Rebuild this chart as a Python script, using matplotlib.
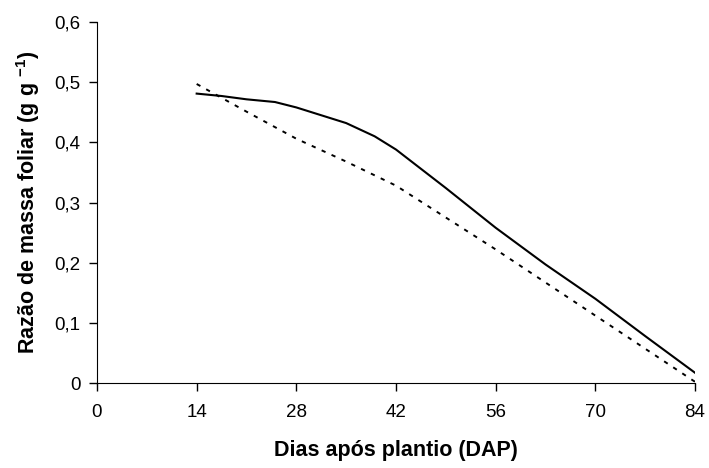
import numpy as np
import matplotlib.pyplot as plt

plt.rcParams['font.family'] = ['Liberation Sans', 'DejaVu Sans']
plt.rcParams['mathtext.fontset'] = 'custom'
plt.rcParams['mathtext.rm'] = 'Liberation Sans'
plt.rcParams['mathtext.bf'] = 'Liberation Sans:bold'

# observed curve (solid)
dias_obs = [14, 17.5, 21, 25, 28, 35, 39, 42, 49, 56, 63, 70, 77, 84]
rmf_obs = [0.481, 0.477, 0.4715, 0.467, 0.458, 0.432, 0.410, 0.388,
           0.324, 0.258, 0.197, 0.140, 0.078, 0.017]

# fitted curve (dashed)
dias_fit = [14, 21, 28, 35, 42, 49, 56, 63, 70, 77, 84]
rmf_fit = [0.497, 0.451, 0.406, 0.368, 0.328, 0.275, 0.222, 0.167,
           0.112, 0.057, 0.002]

xticks = [0, 14, 28, 42, 56, 70, 84]
yticks = [0, 0.1, 0.2, 0.3, 0.4, 0.5, 0.6]
ylabels = ['0', '0,1', '0,2', '0,3', '0,4', '0,5', '0,6']

fig = plt.figure(figsize=(7.09, 4.68), dpi=100)
ax = fig.add_axes([0.1368, 0.1816, 0.8435, 0.7714])

ax.plot(dias_obs, rmf_obs, color='black', lw=1.5)
ax.plot(dias_fit, rmf_fit, color='black', lw=1.4, dashes=(2.2, 3.4))

ax.set_xlim(0, 84)
ax.set_ylim(0, 0.6)
ax.set_xticks(xticks)
ax.set_yticks(yticks)
ax.set_yticklabels(ylabels)
ax.tick_params(labelsize=13.5, length=6, width=1, direction='out')
ax.tick_params(axis='x', pad=9)
ax.tick_params(axis='y', pad=6)
for s in ['top', 'right']:
    ax.spines[s].set_visible(False)

ax.set_xlabel('Dias após plantio (DAP)', fontsize=15.5, fontweight='bold', labelpad=14)
ax.set_ylabel(r'Razão de massa foliar (g g $^{\mathbf{-1}}$)', fontsize=15.5,
              fontweight='bold', labelpad=9)

fig.savefig('out.png', dpi=100)
